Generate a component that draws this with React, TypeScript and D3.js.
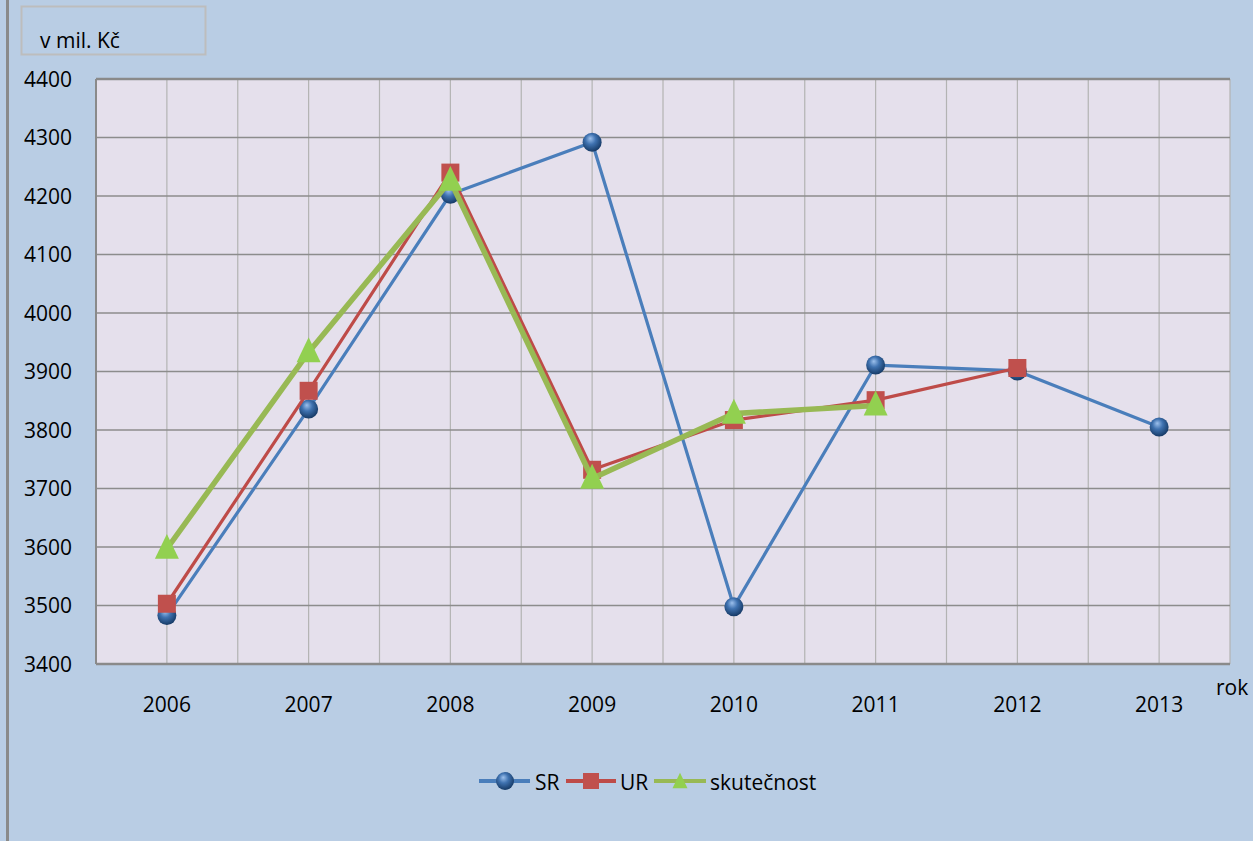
import React from "react";
import * as d3 from "d3";

const years = ["2006", "2007", "2008", "2009", "2010", "2011", "2012", "2013"];
const srValues: (number | null)[] = [3483, 3836, 4203, 4292, 3498, 3911, 3901, 3805];
const urValues: (number | null)[] = [3503, 3867, 4240, 3732, 3817, 3851, 3906, null];
const skutValues: (number | null)[] = [3597, 3933, 4226, 3717, 3828, 3842, null, null];
const yTicks = [3400, 3500, 3600, 3700, 3800, 3900, 4000, 4100, 4200, 4300, 4400];
const legendLabels = ["SR", "UR", "skutečnost"];
const unitLabel = "v mil. Kč";
const xAxisTitle = "rok";

const W = 1253;
const H = 841;
const plot = { left: 96, right: 1230, top: 79, bottom: 664 };
const FONT = "'Open Sans', 'Noto Sans', sans-serif";
const FS = 21;

export default function App() {
  const x = d3.scaleBand<string>().domain(years).range([plot.left, plot.right]).padding(0);
  const y = d3.scaleLinear().domain([3400, 4400]).range([plot.bottom, plot.top]);
  const cx = (yr: string) => (x(yr) as number) + x.bandwidth() / 2;

  const line = d3
    .line<[string, number | null]>()
    .defined((d) => d[1] != null)
    .x((d) => cx(d[0]))
    .y((d) => y(d[1] as number));

  const pairs = (vals: (number | null)[]) => years.map((yr, i) => [yr, vals[i]] as [string, number | null]);

  const tri = (px: number, py: number, s: number) =>
    `M${px},${py - s * 0.62} L${px + s / 2},${py + s * 0.42} L${px - s / 2},${py + s * 0.42} Z`;

  const vLines: number[] = [];
  years.forEach((yr) => {
    vLines.push(x(yr) as number);
    vLines.push(cx(yr));
  });
  vLines.push(plot.right);

  const blue = "#4a7ebb";
  const red = "#be4b48";
  const greenLine = "#98b954";
  const greenMarker = "#92d050";
  const redMarker = "#c0504d";

  const sphere = (px: number, py: number, key: string, r = 9.5) => (
    <circle key={key} cx={px} cy={py} r={r} fill="url(#sphereGrad)" />
  );

  return (
    <svg
      width={W}
      height={H}
      style={{ position: "absolute", left: 0, top: 0, fontFamily: FONT }}
    >
      <defs>
        <radialGradient id="sphereGrad" cx="45%" cy="40%" r="60%" fx="40%" fy="30%">
          <stop offset="0%" stopColor="#9cc0ec" />
          <stop offset="45%" stopColor="#3f72b0" />
          <stop offset="100%" stopColor="#163a66" />
        </radialGradient>
      </defs>
      <rect x={0} y={0} width={W} height={H} fill="#b9cde4" />
      <rect x={6} y={0} width={3} height={H} fill="#8a8a8a" />

      {/* unit box */}
      <rect x={21.5} y={6.5} width={184} height={48} fill="none" stroke="#bdbdbd" strokeWidth={2} />
      <text x={40} y={48} fontSize={FS} fill="#000">{unitLabel}</text>

      {/* plot area */}
      <rect x={plot.left} y={plot.top} width={plot.right - plot.left} height={plot.bottom - plot.top} fill="#e5e0ec" />
      {vLines.map((vx, i) => (
        <line key={"v" + i} x1={vx} x2={vx} y1={plot.top} y2={plot.bottom} stroke="#b3b3b3" strokeWidth={1.2} />
      ))}
      {yTicks.map((t) => (
        <line key={"h" + t} x1={plot.left} x2={plot.right} y1={y(t)} y2={y(t)} stroke="#8c8c8c" strokeWidth={1.5} />
      ))}
      <line x1={plot.left} x2={plot.right} y1={plot.top} y2={plot.top} stroke="#8a8a8a" strokeWidth={2.5} />
      <line x1={plot.left} x2={plot.right} y1={plot.bottom} y2={plot.bottom} stroke="#8a8a8a" strokeWidth={2.5} />
      <line x1={plot.left} x2={plot.left} y1={plot.top} y2={plot.bottom} stroke="#8a8a8a" strokeWidth={2} />

      {/* y tick labels */}
      {yTicks.map((t) => (
        <text key={"yl" + t} x={72} y={y(t)} dy="0.36em" textAnchor="end" fontSize={FS} fill="#000">
          {t}
        </text>
      ))}
      {/* x tick labels */}
      {years.map((yr) => (
        <text key={"xl" + yr} x={cx(yr)} y={704} dy="0.36em" textAnchor="middle" fontSize={FS} fill="#000">
          {yr}
        </text>
      ))}
      <text x={1216} y={687} dy="0.36em" fontSize={FS} fill="#000">{xAxisTitle}</text>

      {/* series lines */}
      <path d={line(pairs(srValues)) || ""} fill="none" stroke={blue} strokeWidth={3.2} strokeLinejoin="round" />
      {pairs(srValues).filter((d) => d[1] != null).map((d) => sphere(cx(d[0]), y(d[1] as number), "sr" + d[0]))}

      <path d={line(pairs(urValues)) || ""} fill="none" stroke={red} strokeWidth={3.2} strokeLinejoin="round" />
      {pairs(urValues).filter((d) => d[1] != null).map((d) => (
        <rect key={"ur" + d[0]} x={cx(d[0]) - 9} y={y(d[1] as number) - 9} width={18} height={18} fill={redMarker} />
      ))}

      <path d={line(pairs(skutValues)) || ""} fill="none" stroke={greenLine} strokeWidth={5.5} strokeLinejoin="round" />
      {pairs(skutValues).filter((d) => d[1] != null).map((d) => (
        <path key={"sk" + d[0]} d={tri(cx(d[0]), y(d[1] as number), 24)} fill={greenMarker} />
      ))}

      {/* legend */}
      <g>
        <line x1={479} x2={530} y1={781} y2={781} stroke={blue} strokeWidth={4} />
        {sphere(505, 781, "lsr", 9)}
        <text x={535} y={782} dy="0.36em" fontSize={FS} fill="#000">{legendLabels[0]}</text>

        <line x1={566} x2={616} y1={781} y2={781} stroke={red} strokeWidth={4} />
        <rect x={583} y={773} width={16} height={16} fill={redMarker} />
        <text x={620} y={782} dy="0.36em" fontSize={FS} fill="#000">{legendLabels[1]}</text>

        <line x1={654} x2={706} y1={781} y2={781} stroke={greenLine} strokeWidth={4} />
        <path d={tri(680, 782, 15)} fill={greenMarker} />
        <text x={710} y={782} dy="0.36em" fontSize={FS} fill="#000">{legendLabels[2]}</text>
      </g>
    </svg>
  );
}
